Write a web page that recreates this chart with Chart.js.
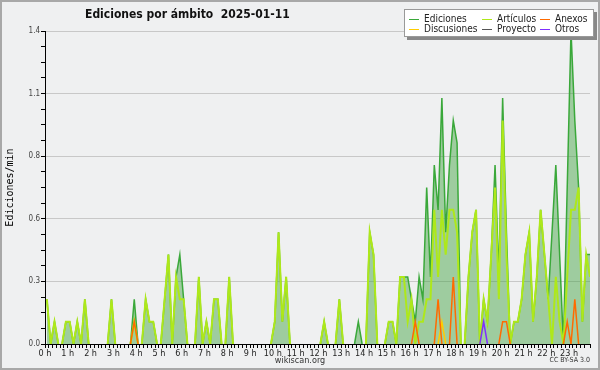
<!DOCTYPE html>
<html>
<head>
    <meta charset="utf-8" />
    <script src="https://cdn.jsdelivr.net/npm/chart.js"></script>
    <style>
        body { margin: 0; background: #ffffff; }
        #marco { position: relative; width: 600px; height: 370px; background: #eff0f1; overflow: hidden; }
        #marco canvas { position: absolute; left: 0; top: 0; }
        #borde { position: absolute; left: 0; top: 0; width: 600px; height: 370px; box-sizing: border-box;
                 border: 2px solid #a8a8a8; pointer-events: none; }
        .titulo { position: absolute; left: 85px; top: 7px; white-space: pre; color: #111;
                  font: bold 12px "DejaVu Sans Condensed", "DejaVu Sans", sans-serif; }
        .leyenda { position: absolute; left: 404px; top: 9px; width: 188px; height: 26px; background: #ffffff;
                   border: 1px solid #999; box-shadow: 3px 3px 0 #888;
                   font: 10px "DejaVu Sans Condensed", "DejaVu Sans", sans-serif; color: #222; }
        .item { position: absolute; height: 10px; line-height: 10px; white-space: nowrap; }
        .item i { display: inline-block; width: 10px; height: 1px; vertical-align: middle; margin-right: 5px; }
        .pie { position: absolute; white-space: nowrap; color: #333;
               font-family: "DejaVu Sans Condensed", "DejaVu Sans", sans-serif; }
    </style>
</head>
<body>
    <div id="marco">
        <canvas id="grafica" width="600" height="370"></canvas>
        <div class="titulo">Ediciones por ámbito  2025-01-11</div>
        <div class="leyenda">
            <div class="item" style="left:4px; top:4px;"><i style="background:#3aa83a"></i>Ediciones</div>
            <div class="item" style="left:4px; top:14px;"><i style="background:#ffcc00"></i>Discusiones</div>
            <div class="item" style="left:77px; top:4px;"><i style="background:#aee81a"></i>Artículos</div>
            <div class="item" style="left:77px; top:14px;"><i style="background:#555555"></i>Proyecto</div>
            <div class="item" style="left:135px; top:4px;"><i style="background:#ff6a00"></i>Anexos</div>
            <div class="item" style="left:135px; top:14px;"><i style="background:#7f2fff"></i>Otros</div>
        </div>
        <div class="pie" style="left:0; width:600px; text-align:center; top:355px; font-size:9px;">wikiscan.org</div>
        <div class="pie" style="right:10px; top:356px; font-size:7px;">CC BY-SA 3.0</div>
        <div id="borde"></div>
    </div>

    <script type="text/javascript">
        // Ediciones por minuto, un valor por intervalo de 10 minutos (una fila = una hora)
        var ediciones = [
            0.2, 0, 0.1, 0, 0, 0.1,
            0.1, 0, 0.1, 0, 0.2, 0,
            0, 0, 0, 0, 0, 0.2,
            0, 0, 0, 0, 0, 0.2,
            0, 0, 0.2, 0.1, 0.1, 0,
            0, 0.2, 0.4, 0, 0.3, 0.4,
            0.2, 0, 0, 0, 0.3, 0,
            0.1, 0, 0.2, 0.2, 0, 0,
            0.3, 0, 0, 0, 0, 0,
            0, 0, 0, 0, 0, 0,
            0.1, 0.5, 0.1, 0.3, 0, 0,
            0, 0, 0, 0, 0, 0,
            0, 0.1, 0, 0, 0, 0.2,
            0, 0, 0, 0, 0.1, 0,
            0, 0.5, 0.4, 0, 0, 0,
            0.1, 0.1, 0, 0.3, 0.3, 0.3,
            0.2, 0.1, 0.3, 0.2, 0.7, 0.3,
            0.8, 0.6, 1.1, 0.5, 0.8, 1.0,
            0.9, 0, 0, 0.3, 0.5, 0.6,
            0, 0.2, 0.1, 0.4, 0.8, 0.3,
            1.1, 0.5, 0, 0.1, 0.1, 0.2,
            0.4, 0.5, 0.1, 0.3, 0.6, 0.4,
            0.2, 0.5, 0.8, 0.4, 0, 0.7,
            1.4, 1.0, 0.7, 0.1, 0.4, 0.4
        ];
        var articulos = [
            0.2, 0, 0.1, 0, 0, 0.1,
            0.1, 0, 0.1, 0, 0.2, 0,
            0, 0, 0, 0, 0, 0.2,
            0, 0, 0, 0, 0, 0.1,
            0, 0, 0.2, 0.1, 0.1, 0,
            0, 0.2, 0.4, 0, 0.3, 0.2,
            0.2, 0, 0, 0, 0.3, 0,
            0.1, 0, 0.2, 0.2, 0, 0,
            0.3, 0, 0, 0, 0, 0,
            0, 0, 0, 0, 0, 0,
            0.1, 0.5, 0.1, 0.3, 0, 0,
            0, 0, 0, 0, 0, 0,
            0, 0.1, 0, 0, 0, 0.2,
            0, 0, 0, 0, 0, 0,
            0, 0.5, 0.4, 0, 0, 0,
            0.1, 0.1, 0, 0.3, 0.3, 0.1,
            0.2, 0, 0.1, 0.1, 0.2, 0.2,
            0.6, 0.3, 0.6, 0.4, 0.6, 0.6,
            0.5, 0, 0, 0.3, 0.5, 0.6,
            0, 0.2, 0.1, 0.4, 0.7, 0.2,
            1.0, 0.4, 0, 0.1, 0.1, 0.2,
            0.4, 0.5, 0.1, 0.3, 0.6, 0.4,
            0.2, 0, 0.3, 0.1, 0, 0.3,
            0.6, 0.6, 0.7, 0.1, 0.4, 0.3
        ];
        var anexos = [
            0, 0, 0, 0, 0, 0,   0, 0, 0, 0, 0, 0,   0, 0, 0, 0, 0, 0,   0, 0, 0, 0, 0, 0.1,
            0, 0, 0, 0, 0, 0,   0, 0, 0, 0, 0, 0,   0, 0, 0, 0, 0, 0,   0, 0, 0, 0, 0, 0,
            0, 0, 0, 0, 0, 0,   0, 0, 0, 0, 0, 0,   0, 0, 0, 0, 0, 0,   0, 0, 0, 0, 0, 0,
            0, 0, 0, 0, 0, 0,   0, 0, 0, 0, 0, 0,   0, 0, 0, 0, 0, 0,   0, 0, 0, 0, 0, 0,
            0, 0.1, 0, 0, 0, 0, 0, 0.2, 0, 0, 0, 0.3, 0, 0, 0, 0, 0, 0,   0, 0, 0, 0, 0, 0,
            0.1, 0.1, 0, 0, 0, 0, 0, 0, 0, 0, 0, 0,  0, 0, 0, 0, 0, 0.1, 0, 0.2, 0, 0, 0, 0
        ];
        var discusiones = [
            0, 0, 0, 0, 0, 0,   0, 0, 0, 0, 0, 0,   0, 0, 0, 0, 0, 0,   0, 0, 0, 0, 0, 0,
            0, 0, 0, 0, 0, 0,   0, 0, 0, 0, 0, 0,   0, 0, 0, 0, 0, 0,   0, 0, 0, 0, 0, 0,
            0, 0, 0, 0, 0, 0,   0, 0, 0, 0, 0, 0,   0, 0, 0, 0, 0, 0,   0, 0, 0, 0, 0, 0,
            0, 0, 0, 0, 0, 0,   0, 0, 0, 0, 0, 0,   0, 0, 0, 0, 0, 0,   0, 0, 0, 0, 0, 0,
            0, 0, 0, 0, 0, 0,   0, 0, 0.1, 0, 0, 0, 0, 0, 0, 0, 0, 0,   0, 0, 0, 0, 0, 0,
            0, 0, 0, 0, 0, 0,   0, 0, 0, 0, 0, 0,   0, 0, 0, 0, 0, 0,   0, 0, 0, 0, 0, 0
        ];
        var proyecto = [
            0, 0, 0, 0, 0, 0,   0, 0, 0, 0, 0, 0,   0, 0, 0, 0, 0, 0,   0, 0, 0, 0, 0, 0,
            0, 0, 0, 0, 0, 0,   0, 0, 0, 0, 0, 0,   0, 0, 0, 0, 0, 0,   0, 0, 0, 0, 0, 0,
            0, 0, 0, 0, 0, 0,   0, 0, 0, 0, 0, 0,   0, 0, 0, 0, 0, 0,   0, 0, 0, 0, 0, 0,
            0, 0, 0, 0, 0, 0,   0, 0, 0, 0, 0, 0,   0, 0, 0, 0, 0, 0,   0, 0, 0, 0, 0, 0,
            0, 0, 0, 0, 0, 0,   0, 0, 0, 0, 0, 0,   0, 0, 0, 0, 0, 0,   0, 0, 0, 0, 0, 0,
            0, 0, 0, 0, 0, 0,   0, 0, 0, 0, 0, 0,   0, 0, 0, 0, 0, 0,   0, 0, 0, 0, 0, 0
        ];
        var otros = [
            0, 0, 0, 0, 0, 0,   0, 0, 0, 0, 0, 0,   0, 0, 0, 0, 0, 0,   0, 0, 0, 0, 0, 0,
            0, 0, 0, 0, 0, 0,   0, 0, 0, 0, 0, 0,   0, 0, 0, 0, 0, 0,   0, 0, 0, 0, 0, 0,
            0, 0, 0, 0, 0, 0,   0, 0, 0, 0, 0, 0,   0, 0, 0, 0, 0, 0,   0, 0, 0, 0, 0, 0,
            0, 0, 0, 0, 0, 0,   0, 0, 0, 0, 0, 0,   0, 0, 0, 0, 0, 0,   0, 0, 0, 0, 0, 0,
            0, 0, 0, 0, 0, 0,   0, 0, 0, 0, 0, 0,   0, 0, 0, 0, 0, 0,   0, 0.1, 0, 0, 0, 0,
            0, 0, 0, 0, 0, 0,   0, 0, 0, 0, 0, 0,   0, 0, 0, 0, 0, 0,   0, 0, 0, 0, 0, 0
        ];

        var minutosPorIntervalo = 10;
        var ejeYMax = 1.4;        // 1.4 ediciones/min arriba
        var ejeYPaso = 0.07;      // marca pequeña; una etiqueta cada 4 marcas
        var fuente = '"DejaVu Sans Condensed", "DejaVu Sans", sans-serif';

        // cada valor va en el centro de su intervalo de 10 minutos (x en horas)
        function puntos(valores) {
            return valores.map(function (v, i) {
                return { x: (i + 0.5) * minutosPorIntervalo / 60, y: v };
            });
        }

        // no dibujar los tramos que estan en cero (se vería encima del eje)
        var sinCeros = {
            borderColor: function (ctx) {
                return (ctx.p0.parsed.y === 0 && ctx.p1.parsed.y === 0) ? 'rgba(0,0,0,0)' : undefined;
            }
        };

        function serie(nombre, valores, color, ancho, orden) {
            return {
                label: nombre,
                data: puntos(valores),
                borderColor: color,
                borderWidth: ancho,
                fill: false,
                order: orden,
                segment: sinCeros
            };
        }

        var series = [
            serie('Ediciones', ediciones, '#3aa83a', 1.5, 6),
            serie('Artículos', articulos, '#aee81a', 2, 5),
            serie('Discusiones', discusiones, '#ffcc00', 1.5, 4),
            serie('Proyecto', proyecto, '#555555', 1.5, 3),
            serie('Anexos', anexos, '#ff6a00', 1.5, 2),
            serie('Otros', otros, '#7f2fff', 1.5, 1)
        ];
        // area verde bajo el total de ediciones
        series[0].fill = 'origin';
        series[0].backgroundColor = 'rgba(60,160,60,0.45)';

        var ultimoX = (ediciones.length - 0.5) * minutosPorIntervalo / 60;

        new Chart(document.getElementById('grafica'), {
            type: 'line',
            data: { datasets: series },
            options: {
                responsive: false,
                animation: false,
                layout: { padding: { top: 31, right: 10, left: 0, bottom: 0 } },
                elements: { point: { radius: 0 }, line: { tension: 0 } },
                plugins: {
                    legend: { display: false },
                    title: { display: false },
                    tooltip: { enabled: false }
                },
                scales: {
                    x: {
                        type: 'linear',
                        min: 0,
                        max: ultimoX,
                        afterFit: function (s) { s.height = 26; },
                        border: { color: '#000', width: 1 },
                        grid: { drawOnChartArea: false, tickLength: 4, color: '#000' },
                        ticks: {
                            stepSize: minutosPorIntervalo / 60,
                            autoSkip: false,
                            maxRotation: 0,
                            padding: 0,
                            color: '#222',
                            font: { family: fuente, size: 9 },
                            callback: function (v) {
                                return Math.abs(v - Math.round(v)) < 1e-6 ? Math.round(v) + ' h' : '';
                            }
                        }
                    },
                    y: {
                        min: 0,
                        max: ejeYMax,
                        afterFit: function (s) { s.width = 45; },
                        border: { color: '#000', width: 1 },
                        grid: {
                            tickLength: 4,
                            tickColor: '#000',
                            color: function (ctx) {
                                return (ctx.index % 4 === 0 && ctx.index > 0) ? '#c8c8c8' : 'rgba(0,0,0,0)';
                            }
                        },
                        ticks: {
                            stepSize: ejeYPaso,
                            autoSkip: false,
                            padding: 1,
                            color: '#444',
                            font: { family: fuente, size: 8 },
                            callback: function (v, i) { return i % 4 === 0 ? v.toFixed(1) : ''; }
                        },
                        title: {
                            display: true,
                            text: 'Ediciones/min',
                            color: '#000',
                            padding: { top: 4, bottom: 0 },
                            font: { family: '"DejaVu Sans Mono", monospace', size: 10 }
                        }
                    }
                }
            }
        });
    </script>
</body>
</html>
